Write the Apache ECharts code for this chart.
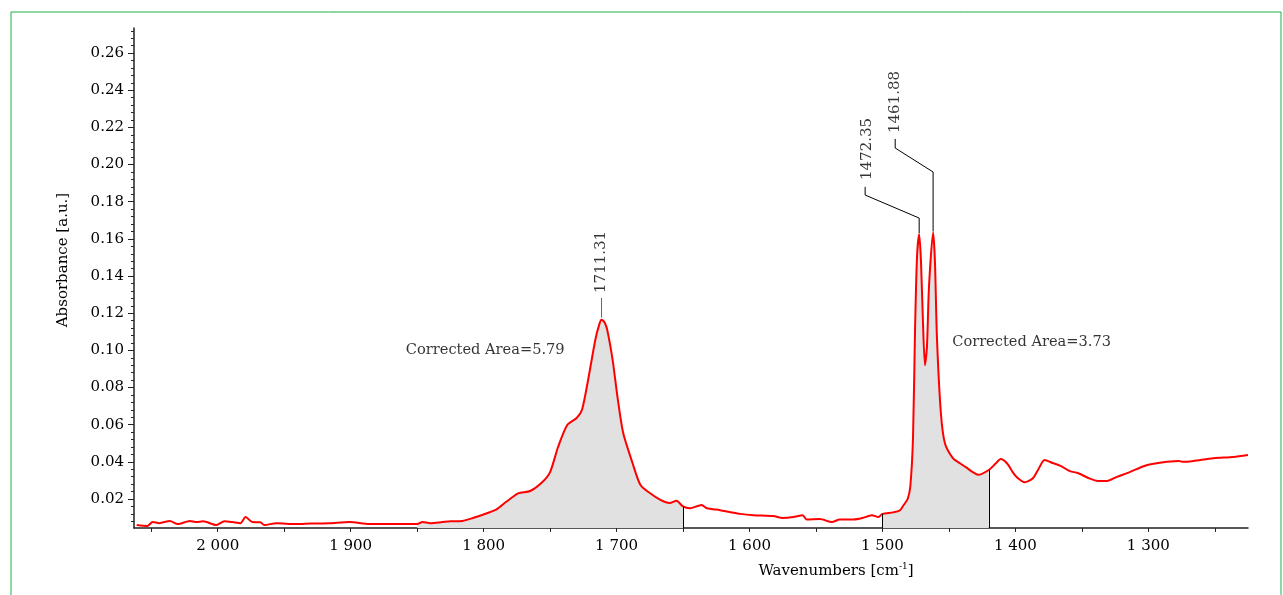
<!DOCTYPE html>
<html>
<head>
<meta charset="utf-8">
<script src="https://cdn.jsdelivr.net/npm/echarts@6/dist/echarts.min.js"></script>
<style>
  html, body { margin: 0; padding: 0; background: #fff; }
  #chart { width: 1283px; height: 595px; }
</style>
</head>
<body>
<div id="chart"></div>
<script>
// IR spectrum, wavenumber [cm-1] -> absorbance [a.u.]
var wavenumbers = [
  2061, 2053, 2049, 2044, 2036, 2030, 2021, 2016, 2011, 2001, 1995, 1989, 1983, 1979, 1974,
  1968, 1965, 1956, 1941, 1930, 1916, 1901, 1886, 1865, 1850, 1846, 1840, 1831, 1825, 1816,
  1808, 1797, 1790, 1783, 1774, 1765, 1756, 1750, 1744, 1737, 1730, 1726, 1721, 1716, 1713,
  1711.31, 1709, 1707, 1703, 1699, 1695, 1688, 1682, 1675, 1667, 1660, 1655, 1650, 1645, 1636,
  1632, 1622, 1615, 1607, 1597, 1582, 1575, 1567, 1560, 1557, 1547, 1538, 1532, 1522, 1515,
  1508, 1503, 1500, 1492, 1487, 1484, 1481, 1479, 1477, 1475.5, 1474, 1472.35, 1471, 1469.5, 1468,
  1466.5, 1465, 1461.88, 1460.5, 1459, 1456, 1453, 1447, 1442, 1437, 1432, 1428, 1420, 1415,
  1411, 1406, 1402, 1399, 1393, 1387, 1383, 1378, 1372, 1366, 1359, 1353, 1344, 1338, 1331,
  1324, 1314, 1303, 1296, 1286, 1277, 1274, 1266, 1251, 1236, 1225
];
var absorbance = [
  0.0060, 0.0055, 0.0076, 0.0070, 0.0082, 0.0065, 0.0082, 0.0076, 0.0080, 0.0060, 0.0080, 0.0076, 0.0070, 0.0103, 0.0076,
  0.0075, 0.0060, 0.0070, 0.0065, 0.0068, 0.0070, 0.0076, 0.0065, 0.0066, 0.0066, 0.0076, 0.0070, 0.0076, 0.0080, 0.0082,
  0.0098, 0.0125, 0.0146, 0.0185, 0.0230, 0.0243, 0.0290, 0.0345, 0.0480, 0.0600, 0.0636, 0.0680, 0.0857, 0.1056, 0.1140,
  0.1165, 0.1150, 0.1110, 0.0950, 0.0733, 0.0555, 0.0394, 0.0275, 0.0232, 0.0195, 0.0178, 0.0190, 0.0160, 0.0150, 0.0168,
  0.0150, 0.0140, 0.0130, 0.0120, 0.0113, 0.0108, 0.0098, 0.0103, 0.0113, 0.0090, 0.0092, 0.0076, 0.0090, 0.0090, 0.0098,
  0.0113, 0.0103, 0.0120, 0.0128, 0.0138, 0.0168, 0.0200, 0.0270, 0.0530, 0.1100, 0.1500, 0.1625, 0.1480, 0.1150, 0.0920,
  0.1020, 0.1340, 0.1635, 0.1480, 0.1070, 0.0660, 0.0500, 0.0420, 0.0394, 0.0370, 0.0345, 0.0330, 0.0356, 0.0390,
  0.0415, 0.0390, 0.0345, 0.0318, 0.0290, 0.0310, 0.0356, 0.0410, 0.0394, 0.0378, 0.0350, 0.0340, 0.0310, 0.0297, 0.0297,
  0.0318, 0.0345, 0.0378, 0.0390, 0.0400, 0.0405, 0.0400, 0.0405, 0.0420, 0.0426, 0.0437
];

var xTicks = [2000, 1900, 1800, 1700, 1600, 1500, 1400, 1300];
var xMinorTicks = [2050, 2000, 1950, 1900, 1850, 1800, 1750, 1700, 1650, 1600, 1550, 1500, 1450, 1400, 1350, 1300, 1250];
var yTicks = [0.02, 0.04, 0.06, 0.08, 0.10, 0.12, 0.14, 0.16, 0.18, 0.20, 0.22, 0.24, 0.26];

// integration ranges and their results
var areaRanges = [[1850, 1650], [1500, 1420]];
var areaEdges = [1650, 1500, 1420]; // edges drawn as a black line
var areaTexts = ['Corrected Area=5.79', 'Corrected Area=3.73'];
var peakPositions = [1711.31, 1472.35, 1461.88];

var X_MIN = 1225, X_MAX = 2063;
var Y_MIN = 0.0044, Y_MAX = 0.2735;
var FONT = 'DejaVu Serif';

// minor ticks on y, every 0.004
var yMinor = [];
for (var k = 2; k <= 68; k++) {
  if (k % 5 !== 0) yMinor.push(+(k * 0.004).toFixed(3));
}

var spectrum = wavenumbers.map(function (w, i) { return [w, absorbance[i]]; });
function valueAt(w) {
  for (var i = 0; i < wavenumbers.length; i++) {
    if (wavenumbers[i] === w) return absorbance[i];
  }
  return null;
}

var series = [];

// shaded areas
areaRanges.forEach(function (r) {
  var part = spectrum.filter(function (p) { return p[0] <= r[0] && p[0] >= r[1]; });
  var edges = r.filter(function (w) { return areaEdges.indexOf(w) >= 0; });
  series.push({
    type: 'line',
    data: part,
    smooth: 0.25,
    symbol: 'none',
    lineStyle: { width: 0 },
    areaStyle: { color: '#e1e1e1', opacity: 1, origin: 'start' },
    silent: true,
    z: 1,
    markLine: {
      silent: true,
      symbol: 'none',
      label: { show: false },
      lineStyle: { color: '#000', width: 1, type: 'solid' },
      data: edges.map(function (w) {
        return [{ coord: [w, Y_MIN] }, { coord: [w, valueAt(w)] }];
      })
    }
  });
});

// main curve
series.push({
  type: 'line',
  data: spectrum,
  smooth: 0.25,
  symbol: 'none',
  lineStyle: { color: '#ff0000', width: 2 },
  z: 3
});

// peak leader lines
var p0 = peakPositions[0], p1 = peakPositions[1], p2 = peakPositions[2];
var leaders = [
  { color: '#666', pts: [[p0, valueAt(p0) + 0.0012], [p0, 0.1282]] },
  { color: '#000', pts: [[p1, valueAt(p1) + 0.0005], [p1, 0.1712], [1513, 0.1836], [1513, 0.1880]] },
  { color: '#000', pts: [[p2, valueAt(p2) + 0.0005], [p2, 0.1960], [1490.4, 0.2089], [1490.4, 0.2138]] }
];
leaders.forEach(function (l) {
  series.push({
    type: 'line',
    data: l.pts,
    symbol: 'none',
    silent: true,
    lineStyle: { color: l.color, width: 1 },
    z: 4
  });
});

// peak labels (rotated)
series.push({
  type: 'scatter',
  symbolSize: 0,
  silent: true,
  data: [[p0, 0.1476], [1511.5, 0.2084], [1490.4, 0.2337]],
  label: {
    show: true,
    position: 'inside',
    rotate: 90,
    fontFamily: FONT,
    fontSize: 15,
    color: '#000',
    textBorderWidth: 0,
    formatter: function (p) { return peakPositions[p.dataIndex].toFixed(2); }
  },
  z: 5
});

// area labels
series.push({
  type: 'scatter',
  symbolSize: 0,
  silent: true,
  data: [[1858.5, 0.1002], [1447.5, 0.1045]],
  label: {
    show: true,
    position: 'right',
    distance: 0,
    fontFamily: FONT,
    fontSize: 14.6,
    color: '#000',
    textBorderWidth: 0,
    formatter: function (p) { return areaTexts[p.dataIndex]; }
  },
  z: 5
});

var axisLine = { show: true, lineStyle: { color: '#222', width: 1.5 } };

var option = {
  animation: false,
  backgroundColor: '#fff',
  grid: { left: 134, right: 35, top: 28, bottom: 67 },
  xAxis: {
    type: 'value',
    inverse: true,
    min: X_MIN,
    max: X_MAX,
    axisLine: axisLine,
    axisTick: { show: true, length: 4, customValues: xMinorTicks, lineStyle: { color: '#222' } },
    axisLabel: {
      customValues: xTicks,
      margin: 11,
      fontFamily: FONT,
      fontSize: 15,
      color: '#000',
      formatter: function (v) {
        return String(v).replace(/\B(?=(\d{3})+(?!\d))/g, ' ');
      }
    },
    splitLine: { show: false }
  },
  yAxis: [{
    type: 'value',
    min: Y_MIN,
    max: Y_MAX,
    axisLine: axisLine,
    axisTick: { show: true, length: 6, customValues: yTicks, lineStyle: { color: '#222' } },
    axisLabel: {
      customValues: yTicks,
      margin: 10,
      fontFamily: FONT,
      fontSize: 15,
      color: '#000',
      formatter: function (v) { return v.toFixed(2); }
    },
    splitLine: { show: false }
  }, {
    type: 'value',
    position: 'left',
    min: Y_MIN,
    max: Y_MAX,
    axisLine: { show: false },
    axisTick: { show: true, length: 3, customValues: yMinor, lineStyle: { color: '#222' } },
    axisLabel: { show: false },
    splitLine: { show: false }
  }],
  graphic: [
    {
      type: 'rect',
      silent: true,
      shape: { x: 11, y: 12, width: 1270, height: 620 },
      style: { fill: 'none', stroke: '#1db04a', lineWidth: 1 }
    },
    {
      type: 'text',
      x: 63, y: 260,
      rotation: Math.PI / 2,
      silent: true,
      style: {
        text: 'Absorbance [a.u.]',
        font: '15px "DejaVu Serif"',
        fill: '#000',
        align: 'center',
        verticalAlign: 'middle'
      }
    },
    {
      type: 'text',
      x: 836, y: 571,
      silent: true,
      style: {
        text: 'Wavenumbers [cm{sup|-1}]',
        font: '15px "DejaVu Serif"',
        fill: '#000',
        align: 'center',
        verticalAlign: 'middle',
        rich: {
          sup: { fontSize: 9, fontFamily: FONT, verticalAlign: 'top', padding: [0, 0, 8, 0] }
        }
      }
    }
  ],
  series: series
};

var myChart = echarts.init(document.getElementById('chart'));
myChart.setOption(option);
</script>
</body>
</html>
